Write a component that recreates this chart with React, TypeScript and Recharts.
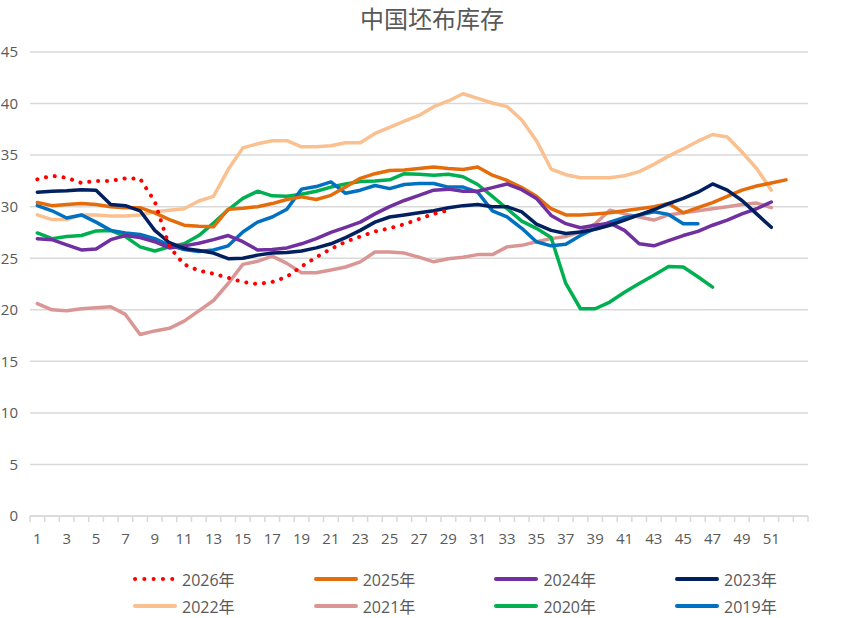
import { CartesianGrid, Line, LineChart, XAxis, YAxis } from 'recharts';

// week numbers on the category axis (Excel-style: 53 slots, the last one unlabeled)
const weeks = Array.from({ length: 53 }, (_, i) => i + 1);
const yTicks = [0, 5, 10, 15, 20, 25, 30, 35, 40, 45];

const s2026 = [
  32.65, 33.0, 32.8, 32.3, 32.5, 32.5, 32.75, 32.7, 30.5, 26.1, 24.4, 23.8, 23.5, 23.1, 22.7,
  22.5, 22.7, 23.2, 24.2, 25.1, 25.9, 26.6, 27.1, 27.6, 27.9, 28.3, 28.8, 29.3, 29.65,
];
const s2025 = [
  30.4, 30.1, 30.2, 30.3, 30.2, 30.0, 29.9, 29.9, 29.4, 28.75, 28.2, 28.1, 28.05, 29.75, 29.85,
  30.0, 30.3, 30.7, 30.95, 30.7, 31.1, 31.9, 32.75, 33.2, 33.5, 33.55, 33.7, 33.85, 33.7, 33.6,
  33.85, 33.05, 32.55, 31.85, 31.0, 29.8, 29.2, 29.2, 29.3, 29.4, 29.6, 29.8, 30.0, 30.3, 29.4,
  29.9, 30.4, 31.0, 31.6, 32.0, 32.3, 32.6,
];
const s2024 = [
  26.9, 26.8, 26.3, 25.8, 25.9, 26.8, 27.2, 27.0, 26.6, 26.0, 26.2, 26.45, 26.8, 27.2, 26.6,
  25.8, 25.85, 26.0, 26.4, 26.9, 27.5, 28.0, 28.5, 29.3, 30.0, 30.6, 31.1, 31.6, 31.7, 31.5,
  31.5, 31.85, 32.2, 31.65, 30.8, 29.15, 28.35, 27.95, 28.2, 28.4, 27.7, 26.4, 26.2, 26.7, 27.2,
  27.6, 28.2, 28.7, 29.3, 29.8, 30.45,
];
const s2023 = [
  31.4, 31.5, 31.55, 31.65, 31.6, 30.2, 30.1, 29.6, 27.7, 26.5, 25.95, 25.75, 25.5, 24.95, 25.0,
  25.3, 25.5, 25.55, 25.7, 26.0, 26.4, 27.0, 27.7, 28.5, 29.0, 29.2, 29.4, 29.6, 29.9, 30.1,
  30.2, 30.0, 30.0, 29.5, 28.3, 27.7, 27.4, 27.55, 27.8, 28.2, 28.7, 29.2, 29.7, 30.3, 30.8,
  31.4, 32.2, 31.6, 30.6, 29.3, 28.0,
];
const s2022 = [
  29.2, 28.75, 28.75, 29.2, 29.2, 29.1, 29.1, 29.2, 29.5, 29.65, 29.8, 30.55, 31.0, 33.6, 35.7,
  36.1, 36.4, 36.4, 35.8, 35.8, 35.9, 36.2, 36.2, 37.1, 37.7, 38.3, 38.85, 39.7, 40.25, 40.95,
  40.5, 40.05, 39.7, 38.4, 36.4, 33.65, 33.1, 32.8, 32.8, 32.8, 33.0, 33.4, 34.1, 34.9, 35.6,
  36.35, 37.0, 36.75, 35.3, 33.7, 31.6,
];
const s2021 = [
  20.6, 20.0, 19.9, 20.1, 20.2, 20.3, 19.55, 17.6, 17.95, 18.2, 18.9, 19.9, 20.9, 22.55, 24.4,
  24.7, 25.2, 24.5, 23.6, 23.6, 23.85, 24.15, 24.65, 25.6, 25.6, 25.5, 25.1, 24.65, 24.95, 25.1,
  25.35, 25.35, 26.1, 26.25, 26.6, 26.9, 27.1, 27.55, 28.35, 29.65, 29.3, 29.0, 28.7, 29.2, 29.4,
  29.6, 29.8, 30.0, 30.2, 30.35, 29.9,
];
const s2020 = [
  27.45, 26.9, 27.1, 27.2, 27.65, 27.7, 27.1, 26.1, 25.7, 26.1, 26.4, 27.2, 28.4, 29.7, 30.8,
  31.5, 31.05, 31.0, 31.2, 31.5, 31.9, 32.2, 32.45, 32.5, 32.6, 33.2, 33.15, 33.05, 33.15, 32.9,
  32.15, 31.0, 29.8, 28.6, 27.9, 27.0, 22.55, 20.1, 20.1, 20.75, 21.7, 22.55, 23.35, 24.2, 24.15,
  23.2, 22.2,
];
const s2019 = [
  30.1, 29.6, 28.9, 29.2, 28.5, 27.7, 27.45, 27.3, 26.9, 26.25, 25.85, 25.65, 25.8, 26.2, 27.55,
  28.5, 29.0, 29.75, 31.7, 31.95, 32.4, 31.3, 31.6, 32.05, 31.75, 32.15, 32.25, 32.25, 31.9,
  31.9, 31.4, 29.6, 29.0, 27.9, 26.6, 26.2, 26.35, 27.2, 27.9, 28.5, 28.95, 29.2, 29.5, 29.25,
  28.35, 28.35,
];

type Series = { key: string; label: string; color: string; values: number[]; dotted?: boolean };

// legend order (two rows of four)
const series: Series[] = [
  { key: 'y2026', label: '2026年', color: '#FF0000', values: s2026, dotted: true },
  { key: 'y2025', label: '2025年', color: '#E46C0A', values: s2025 },
  { key: 'y2024', label: '2024年', color: '#7030A0', values: s2024 },
  { key: 'y2023', label: '2023年', color: '#002060', values: s2023 },
  { key: 'y2022', label: '2022年', color: '#FAC090', values: s2022 },
  { key: 'y2021', label: '2021年', color: '#D99694', values: s2021 },
  { key: 'y2020', label: '2020年', color: '#00B050', values: s2020 },
  { key: 'y2019', label: '2019年', color: '#0070C0', values: s2019 },
];
// paint order: older years underneath, the current year on top
const drawOrder = ['y2022', 'y2021', 'y2020', 'y2019', 'y2025', 'y2024', 'y2023', 'y2026'];

const data = weeks.map((week, i) => {
  const row: Record<string, number | undefined> = { week };
  series.forEach((s) => {
    row[s.key] = s.values[i];
  });
  return row;
});

const W = 864;
const H = 618;
const PLOT_LEFT = 30;
const PLOT_RIGHT = 808;
const STEP = (PLOT_RIGHT - PLOT_LEFT) / weeks.length;
const TEXT = '#595959';
const GRID = '#D9D9D9';
const FONT = "'Open Sans', 'Noto Sans CJK SC', sans-serif";

function WeekTick(props: any) {
  const { x, y, payload, index } = props;
  const half = STEP / 2;
  const showLabel = index % 2 === 0 && payload.value !== 53;
  return (
    <g>
      <line x1={x - half} x2={x - half} y1={y} y2={y + 6} stroke={GRID} strokeWidth={1.5} />
      {index === weeks.length - 1 && (
        <line x1={x + half} x2={x + half} y1={y} y2={y + 6} stroke={GRID} strokeWidth={1.5} />
      )}
      {showLabel && (
        <text x={x} y={y + 28} textAnchor="middle" fill={TEXT} fontSize={15} fontFamily={FONT}>
          {payload.value}
        </text>
      )}
    </g>
  );
}

function LegendGrid() {
  return (
    <div
      style={{
        position: 'absolute',
        left: 133,
        top: 568,
        display: 'grid',
        gridTemplateColumns: 'repeat(4, 180.7px)',
        rowGap: 5,
        fontFamily: FONT,
        fontSize: 16,
        color: TEXT,
      }}
    >
      {series.map((s) => (
        <div key={s.key} style={{ display: 'flex', alignItems: 'center', height: 22 }}>
          <svg width={44} height={8} style={{ marginRight: 5 }}>
            {s.dotted ? (
              <line
                x1={2}
                x2={42}
                y1={4}
                y2={4}
                stroke={s.color}
                strokeWidth={4}
                strokeLinecap="round"
                strokeDasharray="0.1 9.2"
              />
            ) : (
              <line x1={2} x2={42} y1={4} y2={4} stroke={s.color} strokeWidth={4} strokeLinecap="round" />
            )}
          </svg>
          <span>{s.label}</span>
        </div>
      ))}
    </div>
  );
}

export default function App() {
  return (
    <div style={{ position: 'absolute', left: 0, top: 0, width: W, height: H, background: '#fff' }}>
      <svg width={W} height={40} style={{ position: 'absolute', left: 0, top: 0 }}>
        <text
          x={W / 2}
          y={28}
          textAnchor="middle"
          fill={TEXT}
          fontSize={24}
          fontFamily="'Noto Sans CJK SC', sans-serif"
        >
          中国坯布库存
        </text>
      </svg>
      <LineChart
        width={W}
        height={H}
        data={data}
        margin={{ top: 52, right: W - PLOT_RIGHT, bottom: 72, left: 0 }}
        style={{ position: 'absolute', left: 0, top: 0 }}
      >
        <CartesianGrid horizontal vertical={false} stroke={GRID} strokeWidth={1.5} />
        <XAxis
          dataKey="week"
          type="category"
          height={30}
          interval={0}
          padding={{ left: STEP / 2, right: STEP / 2 }}
          axisLine={{ stroke: GRID, strokeWidth: 1.5 }}
          tickLine={false}
          tickSize={0}
          tickMargin={0}
          tick={<WeekTick />}
        />
        <YAxis
          type="number"
          domain={[0, 45]}
          ticks={yTicks}
          width={PLOT_LEFT}
          axisLine={false}
          tickLine={false}
          tickSize={0}
          tickMargin={12}
          tick={{ fontSize: 15, fill: TEXT, fontFamily: FONT }}
        />
        {drawOrder.map((key) => {
          const s = series.find((it) => it.key === key)!;
          return (
            <Line
              key={s.key}
              type="linear"
              dataKey={s.key}
              name={s.label}
              stroke={s.color}
              strokeWidth={s.dotted ? 4 : 3.5}
              strokeLinejoin="round"
              strokeLinecap="round"
              strokeDasharray={s.dotted ? '0.1 8.8' : undefined}
              dot={false}
              activeDot={false}
              isAnimationActive={false}
            />
          );
        })}
      </LineChart>
      <LegendGrid />
    </div>
  );
}
